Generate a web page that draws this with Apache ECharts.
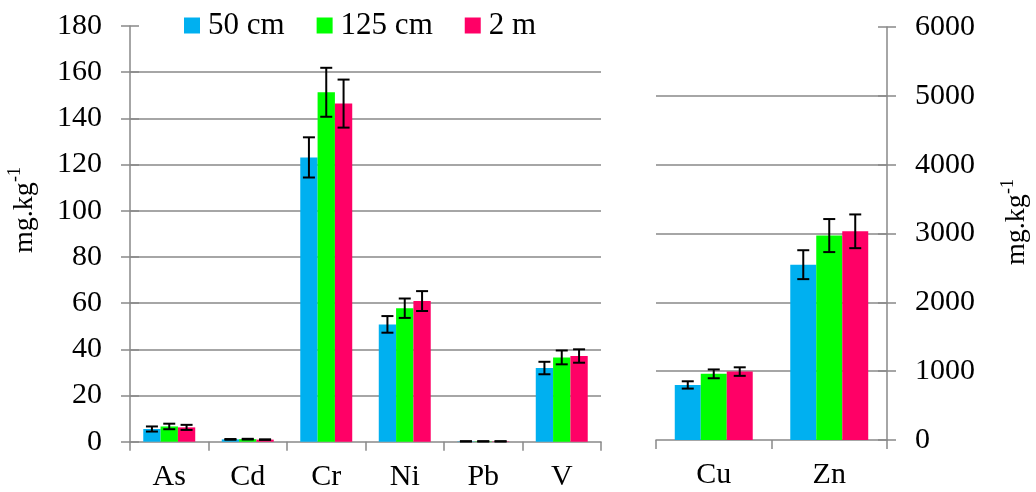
<!DOCTYPE html>
<html>
<head>
<meta charset="utf-8">
<script src="https://cdn.jsdelivr.net/npm/echarts@6/dist/echarts.min.js"></script>
<style>html,body{margin:0;padding:0;background:#fff;}#c{width:1036px;height:492px;}</style>
</head>
<body>
<div id="c"></div>
<script>
// ---- data ----
const seriesNames = ['50 cm', '125 cm', '2 m'];
const categoriesLeft = ['As', 'Cd', 'Cr', 'Ni', 'Pb', 'V'];
const categoriesRight = ['Cu', 'Zn'];

const cm50Left = [5.5, 1.0, 123.1, 50.8, 0.15, 31.9];
const cm50LeftErr = [1.1, 0.15, 8.7, 3.6, 0.02, 2.7];
const cm125Left = [6.6, 1.1, 151.3, 57.8, 0.15, 36.5];
const cm125LeftErr = [1.2, 0.15, 10.6, 4.2, 0.02, 3.0];
const m2Left = [6.2, 0.9, 146.4, 60.9, 0.15, 37.1];
const m2LeftErr = [1.1, 0.1, 10.4, 4.3, 0.02, 2.9];

const cm50Right = [800, 2547];
const cm50RightErr = [53, 210];
const cm125Right = [961, 2970];
const cm125RightErr = [64, 240];
const m2Right = [994, 3032];
const m2RightErr = [62, 245];

const leftTicks = {min: 0, max: 180, interval: 20};
const rightTicks = {min: 0, max: 6000, interval: 1000};
const unitMain = 'mg.kg';
const unitSup = '-1';

// ---- styling ----
const colors = ['#00B0F0', '#00FF00', '#FF0066'];
const FONT = 'Liberation Serif';
const GRAY = '#898989';
const gapLeft = 0.338, gapRight = 0.325;

const leftVals = [cm50Left, cm125Left, m2Left];
const leftErrs = [cm50LeftErr, cm125LeftErr, m2LeftErr];
const rightVals = [cm50Right, cm125Right, m2Right];
const rightErrs = [cm50RightErr, cm125RightErr, m2RightErr];

function errRender(gap) {
  return function (params, api) {
    const ci = api.value(0), v = api.value(1), e = api.value(2), si = api.value(3);
    const band = api.size([1, 0])[0];
    const bw = band * (1 - gap) / 3;
    const cx = api.coord([ci, v])[0] + (si - 1) * bw;
    const yt = api.coord([ci, v + e])[1];
    const yb = api.coord([ci, Math.max(0, v - e)])[1];
    const hw = 6;
    const st = {stroke: '#000', lineWidth: 2};
    return {type: 'group', children: [
      {type: 'line', shape: {x1: cx, y1: yt, x2: cx, y2: yb}, style: st},
      {type: 'line', shape: {x1: cx - hw, y1: yt, x2: cx + hw, y2: yt}, style: st},
      {type: 'line', shape: {x1: cx - hw, y1: yb, x2: cx + hw, y2: yb}, style: st}
    ]};
  };
}

function errData(vals, errs) {
  const out = [];
  vals.forEach((arr, si) => arr.forEach((v, ci) => out.push([ci, v, errs[si][ci], si])));
  return out;
}

const series = [];
seriesNames.forEach((n, i) => {
  series.push({name: n, type: 'bar', xAxisIndex: 0, yAxisIndex: 0, data: leftVals[i],
    barGap: '0%', barCategoryGap: (gapLeft * 100) + '%', itemStyle: {color: colors[i]}, silent: true});
});
seriesNames.forEach((n, i) => {
  series.push({name: n, type: 'bar', xAxisIndex: 1, yAxisIndex: 2, data: rightVals[i],
    barGap: '0%', barCategoryGap: (gapRight * 100) + '%', itemStyle: {color: colors[i]}, silent: true});
});
series.push({type: 'custom', xAxisIndex: 0, yAxisIndex: 0, renderItem: errRender(gapLeft),
  data: errData(leftVals, leftErrs), z: 5, silent: true});
series.push({type: 'custom', xAxisIndex: 1, yAxisIndex: 2, renderItem: errRender(gapRight),
  data: errData(rightVals, rightErrs), z: 5, silent: true});

const axisTxt = {color: '#000', fontFamily: FONT, fontSize: 30};

function valAxis(grid, pos, ticks, withLabels) {
  return Object.assign({
    type: 'value', gridIndex: grid, position: pos,
    axisLine: {show: withLabels, lineStyle: {color: GRAY, width: 1.5}},
    axisTick: withLabels ? {show: true, length: 9, lineStyle: {color: GRAY, width: 1.5}}
                         : {show: true, inside: true, length: 9, lineStyle: {color: GRAY, width: 1.5}},
    axisLabel: withLabels ? Object.assign({margin: 28, formatter: v => String(v)}, axisTxt) : {show: false},
    splitLine: withLabels ? {show: true, showMinLine: false, showMaxLine: false, lineStyle: {color: GRAY, width: 1.5}} : {show: false}
  }, ticks);
}

// rotated unit title: main text + raised superscript
function unitTitle(baseX, startY) {
  return [
    {type: 'text', x: baseX - 9, y: startY, rotation: Math.PI / 2, z: 10,
      style: {text: unitMain, align: 'left', verticalAlign: 'middle',
        fontFamily: FONT, fontSize: 28, fill: '#000'}},
    {type: 'text', x: baseX - 18, y: startY - 71, rotation: Math.PI / 2, z: 10,
      style: {text: unitSup, align: 'left', verticalAlign: 'middle',
        fontFamily: FONT, fontSize: 18, fill: '#000'}}
  ];
}

const option = {
  animation: false,
  backgroundColor: '#fff',
  color: colors,
  legend: {
    data: seriesNames, left: 184, top: 10, padding: 0,
    itemWidth: 16, itemHeight: 16, itemGap: 32, icon: 'rect',
    textStyle: {color: '#000', fontFamily: FONT, fontSize: 31, padding: [0, 0, 0, 3]}
  },
  grid: [
    {left: 130, top: 26, width: 471, height: 415.7},
    {left: 656, top: 27, width: 231, height: 413}
  ],
  xAxis: [
    {type: 'category', gridIndex: 0, data: categoriesLeft,
      axisLine: {lineStyle: {color: GRAY, width: 1.5}},
      axisTick: {show: true, length: 9, lineStyle: {color: GRAY, width: 1.5}},
      axisLabel: Object.assign({margin: 20}, axisTxt)},
    {type: 'category', gridIndex: 1, data: categoriesRight,
      axisLine: {lineStyle: {color: GRAY, width: 1.5}},
      axisTick: {show: true, length: 9, lineStyle: {color: GRAY, width: 1.5}},
      axisLabel: Object.assign({margin: 20}, axisTxt)}
  ],
  yAxis: [
    valAxis(0, 'left', leftTicks, true),
    valAxis(0, 'left', leftTicks, false),
    valAxis(1, 'right', rightTicks, true),
    valAxis(1, 'right', rightTicks, false)
  ],
  graphic: unitTitle(33.5, 253).concat(unitTitle(1026, 265)),
  series: series
};

const chart = echarts.init(document.getElementById('c'), null, {renderer: 'canvas'});
chart.setOption(option);
</script>
</body>
</html>
